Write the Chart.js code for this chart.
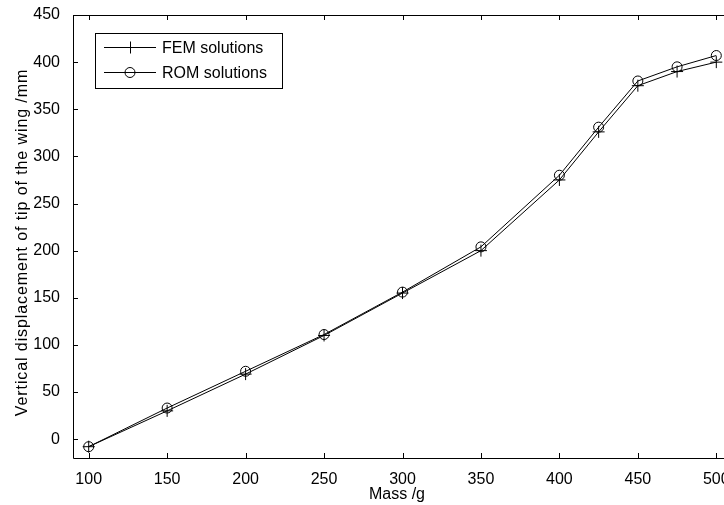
<!DOCTYPE html>
<html>
<head>
<meta charset="utf-8">
<script src="https://cdn.jsdelivr.net/npm/chart.js@4.4.0/dist/chart.umd.min.js"></script>
<style>
    html, body { margin: 0; padding: 0; background: #fff; overflow: hidden; }
    #wrap { width: 740px; height: 505px; }
</style>
</head>
<body>
<div id="wrap"><canvas id="chart" width="740" height="505"></canvas></div>
<script>
// masses in g and tip displacement in mm
const masses = [100, 150, 200, 250, 300, 350, 400, 425, 450, 475, 500];
const femValues = [-8, 30, 69, 110, 155, 200, 275, 326, 375, 390, 400];
const romValues = [-8, 33, 72, 111, 156, 204, 280, 331, 380, 395, 407];
const xTicks = [100, 150, 200, 250, 300, 350, 400, 450, 500];
const yTicks = [0, 50, 100, 150, 200, 250, 300, 350, 400, 450];
const seriesNames = ['FEM solutions', 'ROM solutions'];
const yTitle = 'Vertical displacement of tip of the wing /mm';
const xTitle = 'Mass /g';

const FONT = '"Liberation Sans", Arial, sans-serif';

// inward tick marks, frame, boxed legend and axis titles in matlab style
const matlabFrame = {
    id: 'matlabFrame',
    afterDatasetsDraw(chart) {
        const { ctx, chartArea: a, scales } = chart;
        ctx.save();
        ctx.strokeStyle = '#000';
        ctx.lineWidth = 1;
        ctx.beginPath();
        ctx.rect(Math.round(a.left) + 0.5, Math.round(a.top) + 0.5,
            Math.round(a.right - a.left), Math.round(a.bottom - a.top));
        ctx.stroke();

        const len = 5;
        ctx.beginPath();
        xTicks.forEach(v => {
            const px = Math.round(scales.x.getPixelForValue(v)) + 0.5;
            ctx.moveTo(px, a.bottom); ctx.lineTo(px, a.bottom - len);
            ctx.moveTo(px, a.top); ctx.lineTo(px, a.top + len);
        });
        yTicks.forEach(v => {
            const py = Math.round(scales.y.getPixelForValue(v)) + 0.5;
            ctx.moveTo(a.left, py); ctx.lineTo(a.left + len, py);
            ctx.moveTo(a.right, py); ctx.lineTo(a.right - len, py);
        });
        ctx.stroke();

        // legend box
        const bx = 95.5, by = 33.5, bw = 187, bh = 55;
        ctx.fillStyle = '#fff';
        ctx.fillRect(bx, by, bw, bh);
        ctx.strokeRect(bx, by, bw, bh);
        ctx.font = '16px ' + FONT;
        ctx.textBaseline = 'middle';
        ctx.fillStyle = '#000';
        const rows = [47.5, 72.5];
        rows.forEach((ry, i) => {
            ctx.beginPath();
            ctx.moveTo(104, ry); ctx.lineTo(156, ry);
            ctx.stroke();
            const mx = 130;
            ctx.beginPath();
            if (i === 0) {
                ctx.moveTo(mx - 6, ry); ctx.lineTo(mx + 6, ry);
                ctx.moveTo(mx + 0.5, ry - 6); ctx.lineTo(mx + 0.5, ry + 6);
            } else {
                ctx.arc(mx, ry, 5, 0, Math.PI * 2);
            }
            ctx.stroke();
            ctx.fillText(seriesNames[i], 162, ry + 1);
        });

        // x title
        ctx.textAlign = 'center';
        ctx.textBaseline = 'alphabetic';
        ctx.fillText(xTitle, 397, 499);

        // y title, letter-spaced like the original
        ctx.translate(27, (a.top + a.bottom) / 2 + 6);
        ctx.rotate(-Math.PI / 2);
        ctx.letterSpacing = '0.9px';
        ctx.fillText(yTitle, 0, 0);
        ctx.restore();
    }
};

new Chart(document.getElementById('chart'), {
    type: 'line',
    data: {
        datasets: [
            {
                label: seriesNames[0],
                data: masses.map((m, i) => ({ x: m, y: femValues[i] })),
                borderColor: '#000',
                borderWidth: 1,
                pointStyle: 'cross',
                pointRadius: 6,
                pointBorderColor: '#000',
                pointBorderWidth: 1,
                tension: 0
            },
            {
                label: seriesNames[1],
                data: masses.map((m, i) => ({ x: m, y: romValues[i] })),
                borderColor: '#000',
                borderWidth: 1,
                pointStyle: 'circle',
                pointRadius: 5,
                pointBackgroundColor: 'rgba(0,0,0,0)',
                pointBorderColor: '#000',
                pointBorderWidth: 1,
                tension: 0
            }
        ]
    },
    options: {
        responsive: false,
        animation: false,
        layout: { padding: { top: 15, right: 8, left: 0, bottom: 0 } },
        plugins: { legend: { display: false }, tooltip: { enabled: false } },
        scales: {
            x: {
                type: 'linear',
                min: 90, max: 510,
                afterFit(s) { s.height = 47; },
                afterBuildTicks(s) { s.ticks = xTicks.map(v => ({ value: v })); },
                grid: { display: false },
                border: { display: false },
                ticks: { color: '#000', font: { family: FONT, size: 16 }, padding: 4, maxRotation: 0 }
            },
            y: {
                type: 'linear',
                min: -20, max: 450,
                afterFit(s) { s.width = 73; },
                afterBuildTicks(s) { s.ticks = yTicks.map(v => ({ value: v })); },
                grid: { display: false },
                border: { display: false },
                ticks: { color: '#000', font: { family: FONT, size: 16 }, padding: 5 }
            }
        }
    },
    plugins: [matlabFrame]
});
</script>
</body>
</html>
